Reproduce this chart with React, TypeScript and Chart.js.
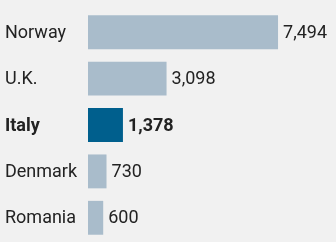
import React, { useEffect, useRef } from "react";
import { Chart, registerables } from "chart.js";

Chart.register(...registerables);

const categories = ["Norway", "U.K.", "Italy", "Denmark", "Romania"];
const values = [7494, 3098, 1378, 730, 600];
const highlight = "Italy";

const LIGHT = "#a9bccb";
const DARK = "#005f8d";
const TEXT = "#222222";
const FONT = "Roboto, 'Open Sans', sans-serif";

const labelsPlugin = {
  id: "labelsPlugin",
  afterDatasetsDraw(chart: any) {
    const ctx = chart.ctx;
    const meta = chart.getDatasetMeta(0);
    ctx.save();
    ctx.textBaseline = "middle";
    ctx.fillStyle = TEXT;
    meta.data.forEach((bar: any, i: number) => {
      const bold = categories[i] === highlight;
      ctx.font = `${bold ? "bold " : ""}18px ${FONT}`;
      ctx.textAlign = "left";
      ctx.fillText(categories[i], 5, bar.y + 1);
      ctx.fillText(values[i].toLocaleString("en-US"), bar.x + 5, bar.y + 1);
    });
    ctx.restore();
  },
};

export default function App() {
  const ref = useRef<HTMLCanvasElement>(null);
  useEffect(() => {
    document.body.style.margin = "0";
    document.body.style.background = "#f1f1f1";
    const chart = new Chart(ref.current!, {
      type: "bar",
      data: {
        labels: categories,
        datasets: [
          {
            data: values,
            backgroundColor: categories.map((c) => (c === highlight ? DARK : LIGHT)),
            borderWidth: 0,
            barPercentage: 0.73,
            categoryPercentage: 1,
          },
        ],
      },
      options: {
        indexAxis: "y",
        animation: false,
        responsive: false,
        layout: { padding: { left: 88, top: 9, bottom: 1, right: 0 } },
        plugins: { legend: { display: false }, tooltip: { enabled: false } },
        scales: {
          x: { display: false, min: 0, max: 9780 },
          y: { display: false },
        },
      },
      plugins: [labelsPlugin],
    });
    return () => chart.destroy();
  }, []);
  return (
    <div style={{ width: 336, height: 242, background: "#f1f1f1" }}>
      <canvas ref={ref} width={336} height={242} style={{ display: "block" }} />
    </div>
  );
}
